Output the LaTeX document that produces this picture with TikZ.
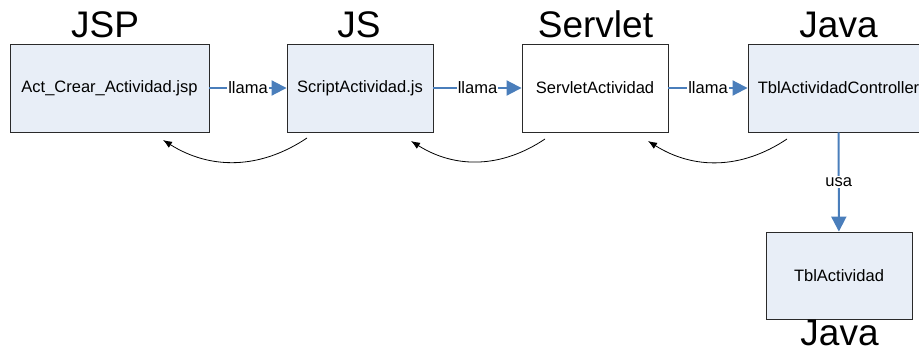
\documentclass[tikz,border=0pt]{standalone}
\usepackage{fontspec}
\setmainfont{Liberation Sans}
\usetikzlibrary{arrows.meta}
\definecolor{boxfill}{HTML}{E8EEF7}
\definecolor{boxline}{HTML}{2A2A2A}
\definecolor{linkblue}{HTML}{4A7EBB}
\begin{document}
\begin{tikzpicture}[x=1pt,y=-1pt,
  box/.style={draw=boxline,line width=0.9pt,fill=boxfill,minimum height=88pt,inner sep=0pt,
    font=\fontsize{16.5}{19}\selectfont},
  whitebox/.style={box,fill=white},
  title/.style={anchor=base,font=\fontsize{37}{40}\selectfont},
  link/.style={draw=linkblue,line width=2pt,-{Triangle[length=15pt,width=15pt]}},
  linklabel/.style={fill=white,inner sep=1pt,font=\fontsize{16.5}{19}\selectfont},
  back/.style={draw=black,line width=0.8pt,-{Latex[length=9pt,width=7pt]}}]
\useasboundingbox (0,0) rectangle (919,351);
\begin{scope}
\clip (0,0) rectangle (919,351);
\node[box,minimum width=199pt] (b1) at (109.5,88) {Act\_Crear\_Actividad.jsp};
\node[box,minimum width=146pt] (b2) at (360,88) {ScriptActividad.js};
\node[whitebox,minimum width=146pt] (b3) at (595,88) {ServletActividad};
\node[box,minimum width=181pt] (b4) at (838.5,88) {TblActividadController};
\node[box,minimum width=146pt,minimum height=87pt] (b5) at (839,275.5) {TblActividad};

\node[title] (t1) at (105,37.5) {JSP};
\node[title] (t2) at (359,37.5) {JS};
\node[title] (t3) at (595.5,37.5) {Servlet};
\node[title] (t4) at (838.5,37.5) {Java};
\node[title] (t5) at (839.5,345) {Java};

\draw[link] (b1) -- node[linklabel] {llama} (b2);
\draw[link] (b2) -- node[linklabel] {llama} (b3);
\draw[link] (b3) -- node[linklabel] {llama} (b4);
\draw[link] (b4) -- node[linklabel] {usa} (b5);

\coordinate (r1s) at (307,138);
\coordinate (r1e) at (163,140);
\coordinate (r2s) at (545,139);
\coordinate (r2e) at (411,141);
\coordinate (r3s) at (787,139);
\coordinate (r3e) at (648,141);
\draw[back] (r1s) to[bend left=33] (r1e);
\draw[back] (r2s) to[bend left=33] (r2e);
\draw[back] (r3s) to[bend left=33] (r3e);
\end{scope}
\end{tikzpicture}
\end{document}
